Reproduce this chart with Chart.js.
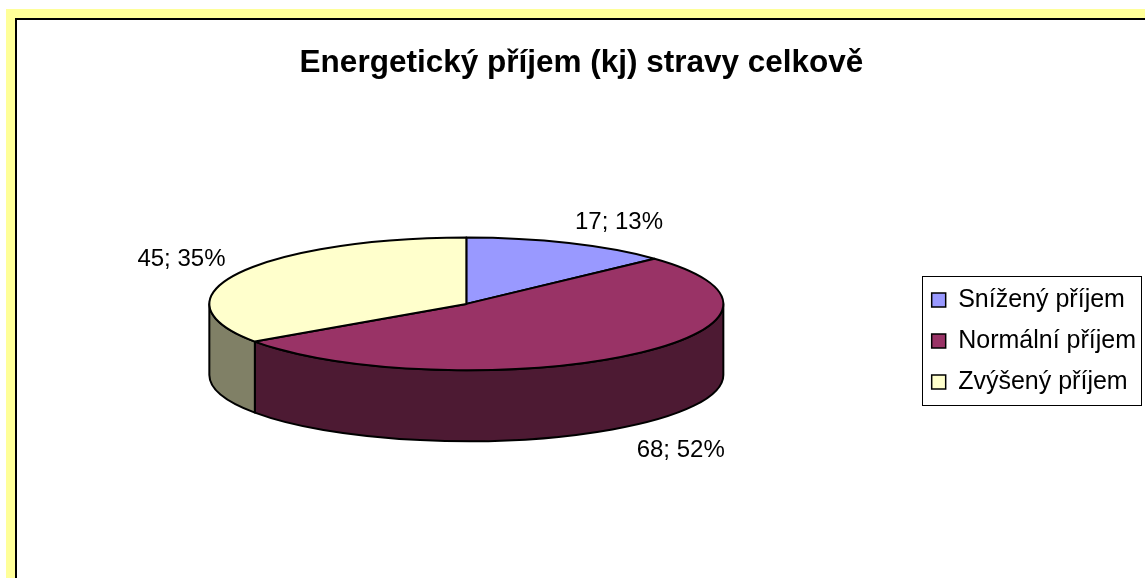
<!DOCTYPE html>
<html lang="cs">
<head>
<meta charset="utf-8">
<title>Energetický příjem (kj) stravy celkově</title>
<script src="https://cdn.jsdelivr.net/npm/chart.js@4.4.1/dist/chart.umd.min.js"></script>
<style>
  body { margin: 0; width: 1145px; height: 578px; overflow: hidden; background: #fff; }
  #frame { position: absolute; left: 6px; top: 9px; width: 1200px; height: 700px; background: #ffff99; }
  #box { position: absolute; left: 9px; top: 9px; width: 1200px; height: 700px; background: #fff;
         border-top: 2px solid #000; border-left: 2px solid #000; }
  #chart { position: absolute; left: 17px; top: 20px; }
</style>
</head>
<body>
<div id="frame"><div id="box"></div></div>
<canvas id="chart" width="1138" height="558"></canvas>
<script>
(function() {
  window.addEventListener("load", main);

  const TITLE = "Energetický příjem (kj) stravy celkově";
  const CATEGORIES = ["Snížený příjem", "Normální příjem", "Zvýšený příjem"];
  const VALUES = [17, 68, 45];
  const COLORS = ["#9999ff", "#993366", "#ffffcc"];

  const FONT = "'Liberation Sans', Arial, sans-serif";
  // flattening of the top ellipse and height of the rim
  const TILT = 0.258;
  const DEPTH = 71;

  const pie3d = {
    id: "pie3d",
    beforeDatasetsDraw: drawPie,
    afterDraw: drawExtras
  };

  function main() {
    let ctx = document.getElementById("chart").getContext("2d");
    Chart.defaults.font.family = FONT;
    Chart.defaults.color = "#000";

    new Chart(ctx, {
      type: "pie",
      data: {
        labels: CATEGORIES,
        datasets: [{
          data: VALUES,
          backgroundColor: COLORS,
          borderColor: "#000",
          borderWidth: 1.5,
          radius: 257
        }]
      },
      options: {
        responsive: false,
        animation: false,
        devicePixelRatio: 1,
        events: [],
        layout: {
          padding: { right: 9, bottom: 52 }
        },
        plugins: {
          title: {
            display: true,
            text: TITLE,
            font: { size: 31.5, weight: "bold" },
            padding: { top: 24, bottom: 0 }
          },
          legend: {
            position: "right",
            fullSize: false,
            // empty title only pushes the items a bit lower
            title: { display: true, text: "", font: { size: 10 }, padding: { top: 62, bottom: 0 } },
            labels: {
              boxWidth: 14,
              boxHeight: 14,
              padding: 16,
              font: { size: 25 }
            }
          },
          tooltip: { enabled: false }
        }
      },
      plugins: [pie3d]
    });
  }

  function drawPie(chart) {
    let ctx = chart.ctx;
    let arcs = chart.getDatasetMeta(0).data;
    let colors = chart.data.datasets[0].backgroundColor;
    let cx = arcs[0].x;
    let cy = arcs[0].y;
    let rx = arcs[0].outerRadius;
    let ry = rx * TILT;

    ctx.save();
    ctx.lineWidth = 2;
    ctx.strokeStyle = "#000";
    ctx.lineJoin = "round";

    // rim first, only the front half (0..PI) can be seen
    for (let i = 0; i < arcs.length; i++) {
      let from = Math.max(arcs[i].startAngle, 0);
      let to = Math.min(arcs[i].endAngle, Math.PI);
      if (to <= from) {
        continue;
      }
      ctx.beginPath();
      ctx.ellipse(cx, cy, rx, ry, 0, from, to);
      ctx.lineTo(cx + rx * Math.cos(to), cy + ry * Math.sin(to) + DEPTH);
      ctx.ellipse(cx, cy + DEPTH, rx, ry, 0, to, from, true);
      ctx.closePath();
      ctx.fillStyle = shade(colors[i], 0.5);
      ctx.fill();
      ctx.stroke();
    }

    // top faces
    for (let i = 0; i < arcs.length; i++) {
      ctx.beginPath();
      ctx.moveTo(cx, cy);
      ctx.ellipse(cx, cy, rx, ry, 0, arcs[i].startAngle, arcs[i].endAngle);
      ctx.closePath();
      ctx.fillStyle = colors[i];
      ctx.fill();
      ctx.stroke();
    }
    ctx.restore();
    return false;
  }

  function drawExtras(chart) {
    let ctx = chart.ctx;
    let arcs = chart.getDatasetMeta(0).data;
    let values = chart.data.datasets[0].data;
    let total = 0;
    for (let i = 0; i < values.length; i++) {
      total += values[i];
    }
    let cx = arcs[0].x;
    let cy = arcs[0].y;
    let rx = arcs[0].outerRadius;
    let ry = rx * TILT;

    ctx.save();
    ctx.font = "24px " + FONT;
    ctx.fillStyle = "#000";
    for (let i = 0; i < arcs.length; i++) {
      let mid = (arcs[i].startAngle + arcs[i].endAngle) / 2;
      let cos = Math.cos(mid);
      let sin = Math.sin(mid);
      let x = cx + (rx + 15) * cos;
      let y = cy + (ry + 15) * sin;
      if (sin > 0) {
        y += DEPTH;
      }
      ctx.textAlign = cos >= 0 ? "left" : "right";
      ctx.textBaseline = sin < 0 ? "alphabetic" : "top";
      let pct = Math.round(values[i] / total * 100);
      ctx.fillText(values[i] + "; " + pct + "%", x, y);
    }

    // frame round the legend
    let boxes = chart.legend.legendHitBoxes;
    let first = boxes[0];
    let last = boxes[boxes.length - 1];
    let right = 0;
    for (let i = 0; i < boxes.length; i++) {
      right = Math.max(right, boxes[i].left + boxes[i].width);
    }
    ctx.lineWidth = 1;
    ctx.strokeStyle = "#000";
    ctx.strokeRect(Math.round(first.left - 10) + 0.5, Math.round(first.top - 11) + 0.5,
      Math.round(right - first.left + 15), Math.round(last.top + last.height - first.top + 22));
    ctx.restore();
  }

  function shade(hex, k) {
    let r = Math.round(parseInt(hex.substr(1, 2), 16) * k);
    let g = Math.round(parseInt(hex.substr(3, 2), 16) * k);
    let b = Math.round(parseInt(hex.substr(5, 2), 16) * k);
    return "rgb(" + r + ", " + g + ", " + b + ")";
  }
})();
</script>
</body>
</html>
